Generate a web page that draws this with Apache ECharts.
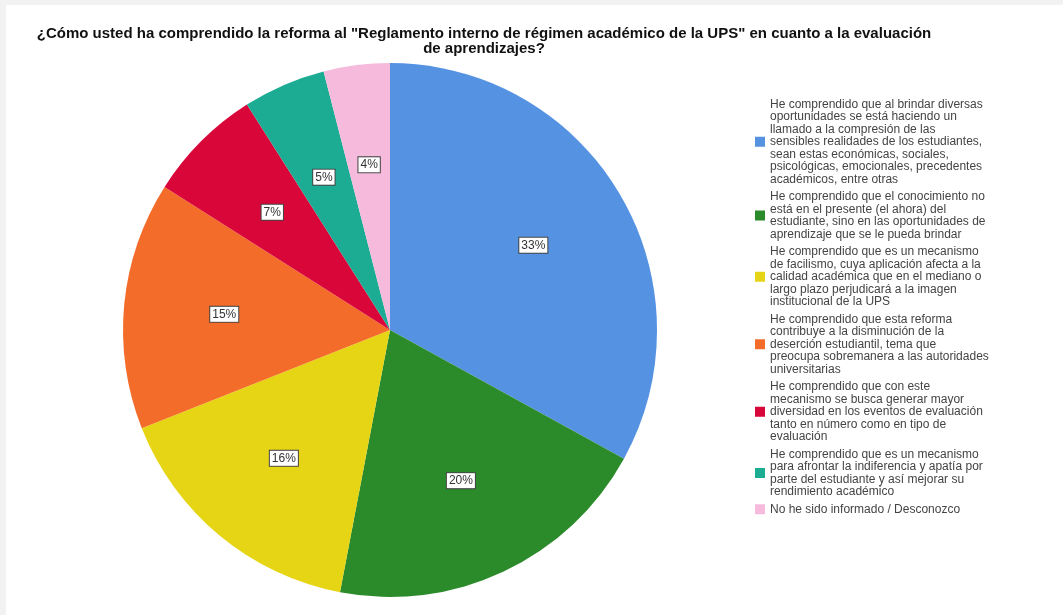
<!DOCTYPE html>
<html>
<head>
<meta charset="utf-8">
<script src="https://cdn.jsdelivr.net/npm/echarts@6/dist/echarts.min.js"></script>
<style>
  html, body { margin: 0; padding: 0; background: #f2f2f2; }
  #chart { position: absolute; left: 6px; top: 5px; width: 1057px; height: 610px; background: #ffffff; }
</style>
</head>
<body>
<div id="chart"></div>
<script>
// Datos del gráfico
const categorias = [
    'He comprendido que al brindar diversas\noportunidades se está haciendo un\nllamado a la compresión de las\nsensibles realidades de los estudiantes,\nsean estas económicas, sociales,\npsicológicas, emocionales, precedentes\nacadémicos, entre otras',
    'He comprendido que el conocimiento no\nestá en el presente (el ahora) del\nestudiante, sino en las oportunidades de\naprendizaje que se le pueda brindar',
    'He comprendido que es un mecanismo\nde facilismo, cuya aplicación afecta a la\ncalidad académica que en el mediano o\nlargo plazo perjudicará a la imagen\ninstitucional de la UPS',
    'He comprendido que esta reforma\ncontribuye a la disminución de la\ndeserción estudiantil, tema que\npreocupa sobremanera a las autoridades\nuniversitarias',
    'He comprendido que con este\nmecanismo se busca generar mayor\ndiversidad en los eventos de evaluación\ntanto en número como en tipo de\nevaluación',
    'He comprendido que es un mecanismo\npara afrontar la indiferencia y apatía por\nparte del estudiante y así mejorar su\nrendimiento académico',
    'No he sido informado / Desconozco'
];
const porcentajes = [33, 20, 16, 15, 7, 5, 4];
const colores = ['#5592e2', '#2b8b2b', '#e6d514', '#f36c2a', '#d9063a', '#1cac94', '#f6badc'];

const titulo = '¿Cómo usted ha comprendido la reforma al "Reglamento interno de régimen académico de la UPS" en cuanto a la evaluación\nde aprendizajes?';

const datos = categorias.map((nombre, i) => ({
    name: nombre,
    value: porcentajes[i],
    itemStyle: { color: colores[i] }
}));

const chart = echarts.init(document.getElementById('chart'));
chart.setOption({
    animation: false,
    title: {
        text: titulo,
        left: 473,
        top: 16,
        textAlign: 'center',
        textStyle: {
            fontFamily: 'Liberation Sans',
            fontSize: 15,
            fontWeight: 'bold',
            color: '#111',
            lineHeight: 15,
            align: 'center'
        }
    },
    legend: {
        orient: 'vertical',
        left: 744,
        top: 88,
        icon: 'rect',
        itemWidth: 10,
        itemHeight: 10,
        itemGap: 5,
        selectedMode: false,
        textStyle: {
            fontFamily: 'Liberation Sans',
            fontSize: 12,
            lineHeight: 12.5,
            color: '#444'
        },
        data: categorias
    },
    series: [
        {
            // tarta principal
            type: 'pie',
            center: [384, 325],
            radius: 267,
            startAngle: 90,
            clockwise: true,
            silent: true,
            label: { show: false },
            labelLine: { show: false },
            data: datos
        },
        {
            // capa transparente solo para las etiquetas
            type: 'pie',
            center: [384, 325],
            radius: [60, 267],
            startAngle: 90,
            clockwise: true,
            silent: true,
            legendHoverLink: false,
            itemStyle: { color: 'rgba(0,0,0,0)' },
            label: {
                show: true,
                position: 'inside',
                formatter: '{c}%',
                fontFamily: 'Liberation Sans',
                fontSize: 12,
                color: '#333',
                backgroundColor: '#fff',
                borderColor: '#444',
                borderWidth: 1,
                padding: [2, 2, 1, 2]
            },
            labelLine: { show: false },
            data: porcentajes.map((v, i) => ({ name: 'lbl' + i, value: v }))
        }
    ]
});
</script>
</body>
</html>
